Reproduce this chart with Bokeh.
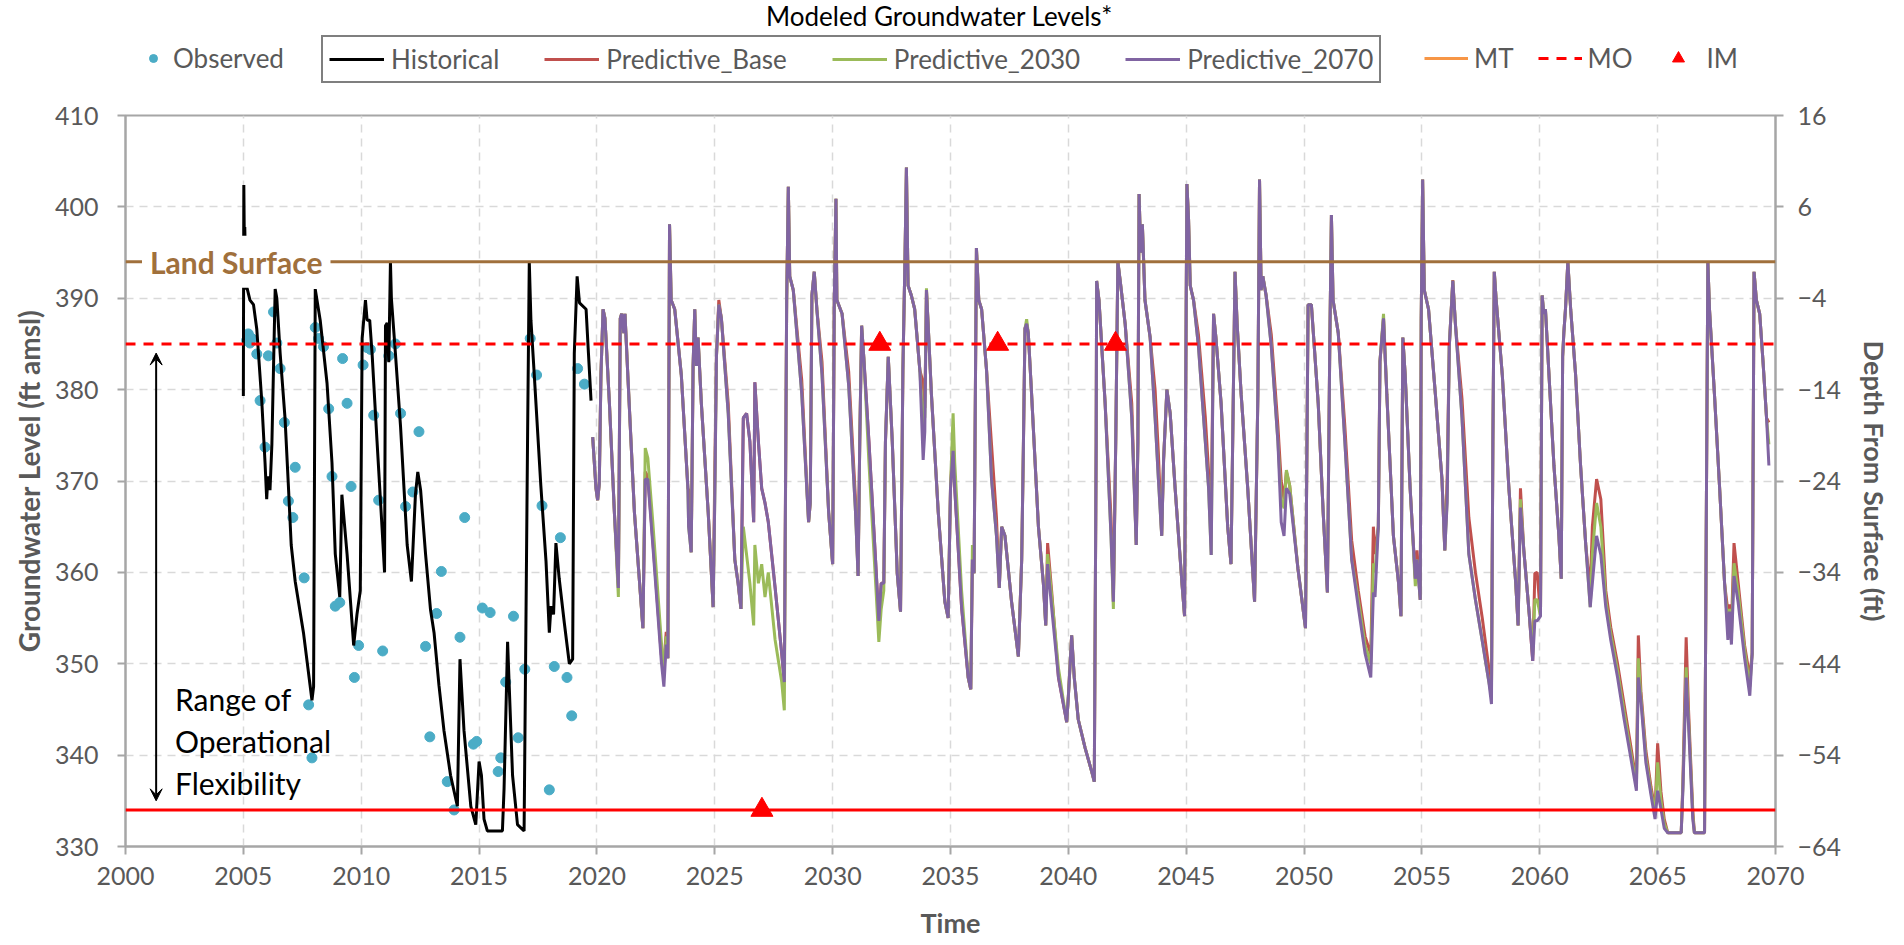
from bokeh.plotting import figure
from bokeh.layouts import column
from bokeh.models import (Range1d, LinearAxis, FixedTicker, Span, Label, Legend, LegendItem,
                          Arrow, VeeHead)
from bokeh.embed import file_html
from bokeh.resources import INLINE

# ---------------- data ----------------
X_TICKS = [2000, 2005, 2010, 2015, 2020, 2025, 2030, 2035, 2040, 2045, 2050, 2055, 2060, 2065, 2070]
LEFT_TICKS = [330, 340, 350, 360, 370, 380, 390, 400, 410]
RIGHT_TICKS = [-64, -54, -44, -34, -24, -14, -4, 6, 16]

LAND_SURFACE = 394
MO_LEVEL = 385
MT_LEVEL = 334

im_years = [2027, 2032, 2037, 2042]
im_levels = [334, 385, 385, 385]

obs_years = [2005.21, 2005.35, 2005.14, 2005.28, 2005.57, 2005.71, 2005.92, 2006.06, 2006.28, 2006.42,
             2006.56, 2006.74, 2007.20, 2006.91, 2007.10, 2007.58, 2007.77, 2007.91, 2008.05, 2008.19,
             2008.40, 2008.62, 2008.76, 2009.21, 2009.40, 2009.57, 2008.90, 2009.09, 2009.71, 2009.89,
             2010.08, 2010.25, 2010.39, 2010.53, 2010.74, 2010.91, 2011.17, 2011.45, 2011.67, 2011.88,
             2012.19, 2012.45, 2012.73, 2012.91, 2013.20, 2013.40, 2013.65, 2013.94, 2014.19, 2014.39,
             2014.76, 2014.90, 2015.14, 2015.47, 2015.81, 2015.92, 2016.13, 2016.46, 2016.66, 2016.94,
             2017.17, 2017.44, 2017.67, 2017.98, 2018.19, 2018.45, 2018.73, 2018.93, 2019.18, 2019.47]
obs_levels = [386.1, 385.6, 385.4, 385.1, 383.9, 378.8, 373.7, 383.7, 388.5, 385.1,
              382.3, 376.4, 371.5, 367.8, 366.0, 359.4, 345.5, 339.7, 386.8, 385.6,
              384.7, 377.9, 370.5, 383.4, 378.5, 369.4, 356.3, 356.7, 348.5, 352.0,
              382.7, 384.6, 384.4, 377.2, 367.9, 351.4, 383.7, 385.0, 377.4, 367.2,
              368.8, 375.4, 351.9, 342.0, 355.5, 360.1, 337.1, 334.0, 352.9, 366.0,
              341.2, 341.5, 356.1, 355.6, 338.2, 339.7, 348.0, 355.2, 341.9, 349.4,
              385.6, 381.6, 367.3, 336.2, 349.7, 363.8, 348.5, 344.3, 382.3, 380.6]

hist_years = [2005.00, 2005.02, 2005.04, 2005.06, 2005.07, 2005.08, 2005.15, 2005.28, 2005.43, 2005.57,
              2005.78, 2005.92, 2005.99, 2006.04, 2006.13, 2006.21, 2006.35, 2006.42, 2006.56, 2006.77,
              2006.91, 2007.03, 2007.20, 2007.55, 2007.91, 2007.98, 2008.05, 2008.26, 2008.55, 2008.76,
              2008.90, 2009.09, 2009.18, 2009.40, 2009.68, 2009.82, 2009.96, 2010.04, 2010.18, 2010.25,
              2010.36, 2010.46, 2010.67, 2010.89, 2010.99, 2011.03, 2011.10, 2011.17, 2011.24, 2011.28,
              2011.45, 2011.67, 2011.95, 2012.13, 2012.30, 2012.40, 2012.52, 2012.73, 2012.94, 2013.09,
              2013.30, 2013.51, 2013.79, 2014.08, 2014.19, 2014.36, 2014.65, 2014.86, 2015.00, 2015.10,
              2015.21, 2015.35, 2015.99, 2016.06, 2016.21, 2016.28, 2016.42, 2016.63, 2016.91, 2017.06,
              2017.13, 2017.20, 2017.34, 2017.62, 2017.84, 2017.98, 2018.05, 2018.16, 2018.26, 2018.40,
              2018.62, 2018.83, 2018.97, 2019.04, 2019.16, 2019.26, 2019.54, 2019.64, 2019.75]
hist_levels = [379.3, 402.4, 396.5, 397.8, 396.5, 391.0, 391.2, 389.8, 389.3, 386.6,
               378.8, 372.0, 368.0, 370.5, 369.0, 374.0, 391.0, 390.0, 384.0, 376.8,
               369.5, 363.0, 359.0, 353.4, 346.0, 347.5, 391.0, 387.6, 380.7, 372.0,
               362.0, 357.3, 368.5, 362.0, 352.0, 355.4, 358.0, 385.6, 389.8, 387.6,
               387.6, 384.0, 374.4, 364.6, 360.0, 387.0, 387.3, 383.0, 394.0, 390.0,
               384.0, 375.9, 363.0, 359.0, 368.5, 371.0, 369.0, 362.0, 355.9, 353.4,
               347.6, 342.7, 337.8, 334.4, 350.5, 342.7, 334.4, 332.4, 339.3, 337.8,
               333.0, 331.7, 331.7, 336.3, 352.4, 347.5, 337.8, 332.4, 331.7, 375.4,
               394.0, 387.6, 381.7, 369.5, 361.2, 353.4, 356.3, 355.4, 363.2, 359.3,
               354.4, 350.0, 350.5, 384.0, 392.4, 389.5, 388.8, 384.0, 378.8]

pred_years = [
    2019.82, 2019.96, 2020.03, 2020.10, 2020.17, 2020.26, 2020.34, 2020.53, 2020.74, 2020.91,
    2020.99, 2021.05, 2021.14, 2021.19, 2021.31, 2021.59, 2021.95, 2022.05, 2022.16, 2022.37,
    2022.73, 2022.84, 2022.94, 2023.01, 2023.08, 2023.15, 2023.30, 2023.58, 2023.86, 2023.89,
    2024.00, 2024.08, 2024.15, 2024.22, 2024.29, 2024.43, 2024.72, 2024.93, 2025.00, 2025.07,
    2025.17, 2025.28, 2025.57, 2025.85, 2025.99, 2026.11, 2026.21, 2026.35, 2026.49, 2026.65,
    2026.70, 2026.85, 2026.99, 2027.13, 2027.27, 2027.56, 2027.84, 2027.95, 2028.05, 2028.12,
    2028.18, 2028.33, 2028.69, 2028.98, 2029.05, 2029.12, 2029.22, 2029.33, 2029.55, 2029.83,
    2030.00, 2030.07, 2030.14, 2030.18, 2030.40, 2030.68, 2030.97, 2031.08, 2031.15, 2031.23,
    2031.32, 2031.54, 2031.82, 2031.96, 2032.06, 2032.17, 2032.24, 2032.36, 2032.53, 2032.74,
    2032.88, 2032.98, 2033.07, 2033.13, 2033.20, 2033.34, 2033.48, 2033.70, 2033.84, 2033.91,
    2033.98, 2034.05, 2034.19, 2034.48, 2034.76, 2034.90, 2035.00, 2035.11, 2035.18, 2035.47,
    2035.75, 2035.86, 2035.93, 2036.00, 2036.10, 2036.20, 2036.32, 2036.53, 2036.74, 2036.95,
    2037.07, 2037.17, 2037.31, 2037.59, 2037.88, 2038.02, 2038.09, 2038.16, 2038.23, 2038.30,
    2038.44, 2038.73, 2038.94, 2039.04, 2039.12, 2039.29, 2039.58, 2039.93, 2040.00, 2040.14,
    2040.25, 2040.42, 2040.71, 2040.99, 2041.10, 2041.18, 2041.20, 2041.30, 2041.56, 2041.81,
    2041.91, 2042.01, 2042.10, 2042.20, 2042.41, 2042.69, 2042.88, 2042.95, 2043.00, 2043.07,
    2043.14, 2043.25, 2043.47, 2043.68, 2043.82, 2043.96, 2044.04, 2044.18, 2044.32, 2044.53,
    2044.82, 2044.93, 2045.00, 2045.03, 2045.10, 2045.17, 2045.31, 2045.52, 2045.81, 2045.95,
    2046.06, 2046.16, 2046.26, 2046.48, 2046.76, 2046.90, 2047.07, 2047.16, 2047.33, 2047.61,
    2047.90, 2048.04, 2048.11, 2048.18, 2048.25, 2048.39, 2048.61, 2048.89, 2049.03, 2049.15,
    2049.25, 2049.39, 2049.74, 2050.06, 2050.17, 2050.31, 2050.38, 2050.60, 2050.81, 2050.99,
    2051.09, 2051.16, 2051.23, 2051.45, 2051.73, 2052.02, 2052.30, 2052.59, 2052.83, 2052.94,
    2053.01, 2053.15, 2053.22, 2053.37, 2053.51, 2053.79, 2054.01, 2054.11, 2054.19, 2054.29,
    2054.50, 2054.72, 2054.79, 2054.93, 2054.97, 2055.03, 2055.10, 2055.28, 2055.57, 2055.85,
    2055.97, 2056.07, 2056.16, 2056.31, 2056.42, 2056.70, 2056.99, 2057.27, 2057.56, 2057.84,
    2057.95, 2058.01, 2058.07, 2058.15, 2058.41, 2058.69, 2058.98, 2059.08, 2059.18, 2059.32,
    2059.55, 2059.70, 2059.79, 2059.89, 2060.03, 2060.10, 2060.17, 2060.24, 2060.38, 2060.60,
    2060.81, 2060.91, 2060.97, 2061.02, 2061.09, 2061.19, 2061.31, 2061.52, 2061.73, 2061.95,
    2062.14, 2062.23, 2062.41, 2062.59, 2062.80, 2063.01, 2063.30, 2063.58, 2063.86, 2064.10,
    2064.18, 2064.29, 2064.50, 2064.72, 2064.89, 2065.00, 2065.14, 2065.28, 2065.43, 2066.00,
    2066.07, 2066.21, 2066.31, 2066.49, 2066.56, 2066.99, 2067.06, 2067.13, 2067.20, 2067.41,
    2067.63, 2067.84, 2067.98, 2068.05, 2068.13, 2068.24, 2068.41, 2068.69, 2068.91, 2069.01,
    2069.09, 2069.19, 2069.33, 2069.47, 2069.62, 2069.72]

pred_2070 = [
    374.8, 369.2, 367.9, 369.7, 381.6, 388.8, 387.8, 378.5, 366.6, 358.3,
    387.8, 388.3, 386.2, 388.3, 381.6, 366.6, 353.9, 370.2, 370.2, 363.0,
    350.3, 347.5, 352.1, 350.6, 398.1, 389.8, 388.8, 381.6, 369.2, 365.0,
    362.2, 382.6, 388.8, 382.6, 385.7, 378.5, 366.6, 356.2, 368.1, 383.6,
    389.3, 387.8, 377.4, 361.4, 358.8, 356.0, 376.9, 377.4, 374.3, 365.5,
    380.8, 374.3, 369.2, 367.6, 365.5, 358.3, 351.1, 348.0, 389.8, 402.2,
    392.4, 390.9, 379.5, 365.5, 367.6, 390.3, 392.9, 388.8, 381.6, 366.6,
    360.9, 389.8, 400.9, 389.8, 388.3, 380.5, 366.6, 359.6, 374.3, 387.0,
    383.6, 374.3, 361.4, 354.7, 358.8, 358.8, 374.3, 383.6, 374.3, 359.9,
    355.7, 382.1, 394.5, 404.3, 391.4, 390.3, 388.8, 382.1, 372.3, 375.4,
    390.9, 387.2, 379.5, 366.6, 356.8, 355.0, 369.2, 373.3, 369.2, 356.2,
    348.5, 347.2, 361.4, 359.9, 395.5, 389.8, 388.8, 382.1, 370.2, 364.0,
    358.3, 365.0, 364.0, 356.8, 350.8, 361.4, 373.3, 386.7, 387.2, 386.2,
    379.5, 365.0, 358.8, 354.2, 360.9, 356.2, 348.5, 343.6, 346.4, 353.1,
    348.5, 343.9, 340.8, 338.2, 337.1, 374.3, 391.9, 389.8, 378.5, 364.0,
    356.8, 374.3, 394.0, 391.9, 387.2, 376.9, 363.0, 374.3, 401.4, 395.0,
    398.1, 389.8, 385.7, 376.9, 370.2, 364.0, 372.3, 380.0, 377.4, 369.2,
    358.8, 355.2, 389.8, 402.5, 398.6, 391.4, 389.8, 384.7, 374.3, 369.2,
    361.9, 388.3, 385.7, 378.5, 365.0, 360.9, 392.9, 387.2, 379.5, 369.2,
    356.8, 379.5, 403.0, 390.9, 392.4, 390.3, 384.7, 374.3, 365.5, 364.0,
    369.2, 368.6, 360.4, 353.9, 389.3, 389.3, 386.7, 378.5, 366.6, 357.8,
    384.7, 399.1, 389.8, 386.2, 374.3, 361.4, 356.2, 351.1, 348.5, 357.8,
    357.3, 365.0, 383.1, 387.8, 379.5, 364.0, 358.8, 355.2, 385.7, 381.6,
    369.2, 359.3, 361.4, 357.0, 387.8, 403.0, 390.9, 388.8, 379.5, 370.2,
    362.4, 367.6, 384.7, 391.9, 387.2, 376.9, 362.0, 357.0, 352.5, 348.0,
    345.6, 374.3, 392.9, 389.8, 381.6, 369.2, 358.8, 354.2, 367.1, 362.5,
    355.5, 350.3, 354.7, 354.7, 355.2, 390.3, 388.3, 388.8, 382.1, 371.7,
    364.0, 359.3, 383.6, 386.2, 388.8, 394.0, 388.8, 381.6, 371.7, 363.0,
    356.2, 358.8, 364.0, 361.9, 356.2, 352.6, 348.5, 343.9, 339.7, 336.1,
    348.5, 345.9, 339.2, 335.6, 333.0, 336.1, 334.1, 332.0, 331.5, 331.5,
    336.1, 348.5, 343.4, 333.0, 331.5, 331.5, 364.0, 394.0, 388.8, 379.5,
    369.2, 358.8, 352.6, 355.7, 352.1, 359.6, 356.8, 350.6, 346.5, 351.1,
    392.9, 389.8, 388.3, 383.1, 376.9, 371.7]

pred_base = [
    374.8, 369.2, 367.9, 369.7, 381.6, 388.8, 387.8, 378.5, 366.6, 358.3,
    387.8, 388.3, 386.2, 388.3, 381.6, 366.6, 353.9, 371.0, 370.5, 363.5,
    351.0, 350.0, 353.5, 350.6, 398.1, 389.8, 388.8, 381.6, 369.2, 369.0,
    362.2, 382.6, 388.8, 382.6, 385.7, 378.5, 366.6, 356.2, 371.0, 383.6,
    389.8, 387.8, 378.5, 361.4, 358.8, 356.0, 376.9, 377.4, 374.3, 365.5,
    380.8, 374.3, 369.2, 367.6, 365.5, 358.3, 351.1, 348.0, 389.8, 402.2,
    392.4, 390.9, 381.0, 365.5, 367.6, 390.3, 392.9, 388.8, 383.0, 366.6,
    360.9, 389.8, 400.9, 389.8, 388.3, 382.0, 368.0, 359.6, 374.3, 387.0,
    383.6, 374.3, 361.4, 354.7, 358.8, 358.8, 374.3, 383.6, 374.3, 359.9,
    355.7, 382.1, 394.5, 404.3, 391.4, 390.3, 388.8, 382.1, 380.8, 378.0,
    390.9, 387.2, 379.5, 366.6, 356.8, 355.0, 369.2, 375.0, 369.2, 356.2,
    348.5, 347.2, 361.4, 359.9, 395.5, 389.8, 388.8, 382.1, 374.0, 366.0,
    358.3, 365.0, 364.0, 356.8, 350.8, 361.4, 373.3, 386.7, 387.2, 386.2,
    379.5, 365.0, 358.8, 354.2, 363.2, 358.0, 348.5, 343.6, 346.4, 353.1,
    348.5, 343.9, 340.8, 338.2, 337.1, 374.3, 391.9, 389.8, 378.5, 366.0,
    356.8, 374.3, 394.0, 391.9, 387.2, 378.5, 363.0, 374.3, 401.4, 395.0,
    398.1, 389.8, 385.7, 380.0, 373.0, 364.0, 372.3, 380.0, 377.4, 369.2,
    358.8, 355.2, 389.8, 402.5, 398.6, 391.4, 389.8, 386.0, 377.0, 371.0,
    366.0, 388.3, 385.7, 378.5, 365.0, 360.9, 392.9, 387.2, 379.5, 369.2,
    356.8, 379.5, 403.0, 390.9, 392.4, 390.3, 386.0, 376.0, 370.0, 368.0,
    371.0, 369.5, 360.4, 353.9, 389.3, 389.3, 386.7, 378.5, 366.6, 357.8,
    384.7, 399.1, 389.8, 386.2, 376.0, 363.5, 358.0, 353.0, 351.0, 365.0,
    362.0, 365.0, 383.1, 387.8, 379.5, 364.0, 358.8, 355.2, 385.7, 381.6,
    369.2, 359.3, 362.4, 357.0, 387.8, 403.0, 390.9, 388.8, 379.5, 370.2,
    362.4, 370.2, 384.7, 392.0, 387.2, 379.0, 366.0, 360.0, 355.0, 349.5,
    347.0, 374.3, 392.9, 389.8, 381.6, 369.2, 358.8, 354.2, 369.2, 362.5,
    355.5, 350.3, 359.9, 360.0, 355.2, 390.3, 388.3, 388.8, 382.1, 371.7,
    364.0, 359.3, 383.6, 386.2, 388.8, 394.0, 388.8, 381.6, 371.7, 363.0,
    358.0, 365.0, 370.2, 368.0, 358.0, 354.0, 350.0, 345.5, 341.0, 337.0,
    353.1, 347.0, 340.5, 336.5, 334.0, 341.3, 336.0, 333.0, 331.5, 331.5,
    337.0, 352.9, 345.0, 334.0, 331.5, 331.5, 364.0, 394.0, 388.8, 379.5,
    369.2, 358.8, 355.7, 356.5, 354.0, 363.2, 359.0, 352.0, 348.5, 351.1,
    392.9, 389.8, 388.3, 383.1, 376.9, 376.4]

pred_2030 = [
    374.8, 369.2, 367.9, 369.7, 381.6, 388.8, 387.8, 378.5, 366.6, 357.3,
    387.8, 388.3, 386.2, 388.3, 381.6, 366.6, 353.9, 373.6, 372.5, 365.5,
    352.5, 349.0, 353.0, 350.6, 398.1, 389.8, 388.8, 381.6, 369.2, 365.0,
    362.2, 382.6, 388.8, 382.6, 385.7, 378.5, 366.6, 356.2, 368.1, 383.6,
    389.3, 387.8, 377.4, 361.4, 358.8, 356.0, 365.0, 361.9, 358.8, 354.2,
    363.0, 358.8, 360.9, 357.3, 360.0, 352.6, 348.0, 344.9, 389.8, 402.2,
    392.4, 390.9, 379.5, 365.5, 367.6, 390.3, 392.9, 388.8, 381.6, 366.6,
    360.9, 389.8, 400.9, 389.8, 388.3, 380.5, 366.6, 359.6, 374.3, 387.0,
    383.6, 372.0, 359.0, 352.4, 356.0, 358.0, 374.3, 383.6, 374.3, 359.9,
    355.7, 382.1, 394.5, 404.3, 391.4, 390.3, 388.8, 382.1, 376.0, 377.0,
    391.1, 387.2, 379.5, 366.6, 356.8, 355.0, 369.2, 377.4, 372.0, 358.0,
    348.5, 347.2, 363.0, 359.9, 395.5, 389.8, 388.8, 382.1, 370.2, 364.0,
    358.3, 365.0, 364.0, 356.8, 350.8, 361.4, 373.3, 386.7, 387.7, 386.2,
    379.5, 365.0, 358.8, 354.2, 362.0, 357.5, 349.5, 343.6, 346.4, 353.1,
    348.5, 343.9, 340.8, 338.2, 337.1, 374.3, 391.9, 389.8, 378.5, 364.0,
    356.0, 374.3, 394.0, 391.9, 387.2, 376.9, 363.0, 374.3, 401.4, 395.0,
    398.1, 389.8, 385.7, 376.9, 370.2, 364.0, 372.3, 380.0, 377.4, 369.2,
    358.8, 355.2, 389.8, 402.5, 398.6, 391.4, 389.8, 384.7, 374.3, 369.2,
    361.9, 388.3, 385.7, 378.5, 365.0, 360.9, 392.9, 387.2, 379.5, 369.2,
    356.8, 379.5, 403.0, 390.9, 392.4, 390.3, 384.7, 374.3, 368.0, 367.0,
    371.2, 369.5, 360.4, 353.9, 389.3, 389.3, 386.7, 378.5, 366.6, 357.8,
    384.7, 399.1, 389.8, 386.2, 374.3, 361.4, 357.0, 352.0, 350.0, 361.0,
    360.0, 365.0, 383.1, 388.3, 379.5, 364.0, 358.8, 355.2, 385.7, 381.6,
    369.2, 358.5, 361.4, 357.0, 387.8, 403.0, 390.9, 388.8, 379.5, 370.2,
    362.4, 368.0, 384.7, 391.9, 387.2, 376.9, 362.0, 357.0, 352.5, 348.0,
    346.5, 374.3, 392.9, 389.8, 381.6, 369.2, 358.8, 354.2, 368.0, 362.5,
    355.5, 351.0, 357.0, 357.0, 355.2, 390.3, 388.3, 388.8, 382.1, 371.7,
    364.0, 359.3, 383.6, 386.2, 388.8, 394.0, 388.8, 381.6, 371.7, 363.0,
    356.2, 362.0, 367.6, 365.0, 357.0, 353.3, 349.2, 344.7, 340.3, 336.5,
    350.6, 346.4, 339.8, 336.0, 333.5, 339.2, 335.0, 332.5, 331.5, 331.5,
    336.5, 349.6, 344.0, 333.5, 331.5, 331.5, 364.0, 394.0, 388.8, 379.5,
    369.2, 358.8, 354.0, 356.0, 353.0, 361.0, 358.0, 351.5, 347.5, 351.1,
    392.9, 389.8, 388.3, 383.1, 376.9, 374.0]

# ---------------- styling ----------------
FONT = "Lato"
GRAY = "#595959"
AXIS_GRAY = "#a6a6a6"
BROWN = "#a0703c"
C_OBS = "#4bacc6"
C_BASE = "#c0504d"
C_2030 = "#9bbb59"
C_2070 = "#8064a2"
C_MT = "#f79646"
C_RED = "#ff0000"

W = 1900
BORDER_L = 125
BORDER_R = 125
HDR_H = 95
TOTAL_H = 943

# ---------------- header (title + legend) ----------------
hdr = figure(width=W, height=HDR_H, output_backend="svg", toolbar_location=None,
             x_range=Range1d(0, 10), y_range=Range1d(0, 10),
             x_axis_type=None, y_axis_type=None,
             min_border_left=BORDER_L, min_border_right=BORDER_R, min_border_top=0, min_border_bottom=0)
hdr.outline_line_color = None
hdr.grid.visible = False

hdr.add_layout(Label(x=814, y=80, x_units="screen", y_units="screen",
                     text="Modeled Groundwater Levels*", text_font=FONT, text_font_size="26px",
                     text_align="center", text_baseline="middle", text_color="black"))

# legend proxies (kept outside the header's visible range)
PX = [-20, -19]
PY = [-20, -20]
lg_obs = hdr.scatter(PX[:1], PY[:1], marker="circle", color=C_OBS)
lg_hist = hdr.line(PX, PY, line_color="black", line_width=3)
lg_base = hdr.line(PX, PY, line_color=C_BASE, line_width=3)
lg_2030 = hdr.line(PX, PY, line_color=C_2030, line_width=3)
lg_2070 = hdr.line(PX, PY, line_color=C_2070, line_width=3)
lg_mt = hdr.line(PX, PY, line_color=C_MT, line_width=3)
lg_mo = hdr.line(PX, PY, line_color=C_RED, line_width=3, line_dash="10 8")
lg_im = hdr.scatter(PX[:1], PY[:1], marker="triangle", color=C_RED)


def make_legend(items, loc, gw, bordered=False, spacing=10, standoff=7, padding=0):
    lg = Legend(items=items, location=loc, orientation="horizontal",
                glyph_width=gw, glyph_height=30, label_standoff=standoff, spacing=spacing,
                padding=padding, label_text_font=FONT, label_text_font_size="26px",
                label_text_color=GRAY, background_fill_alpha=0,
                border_line_color="black" if bordered else None, border_line_width=2)
    hdr.add_layout(lg)
    return lg


make_legend([LegendItem(label="Observed", renderers=[lg_obs])], (18, 21), 20, standoff=10)
make_legend([LegendItem(label="Historical", renderers=[lg_hist]),
             LegendItem(label="Predictive_Base", renderers=[lg_base]),
             LegendItem(label="Predictive_2030", renderers=[lg_2030]),
             LegendItem(label="Predictive_2070", renderers=[lg_2070])],
            (196, 12), 55, bordered=True, spacing=45, standoff=7, padding=6)
make_legend([LegendItem(label="MT", renderers=[lg_mt]),
             LegendItem(label="MO", renderers=[lg_mo]),
             LegendItem(label="IM", renderers=[lg_im])],
            (1299, 21), 44, spacing=24, standoff=6)

# ---------------- main chart ----------------
p = figure(width=W, height=TOTAL_H - HDR_H, output_backend="svg", toolbar_location=None,
           x_range=Range1d(X_TICKS[0], X_TICKS[-1]), y_range=Range1d(LEFT_TICKS[0], LEFT_TICKS[-1]),
           min_border_left=BORDER_L, min_border_right=BORDER_R, min_border_top=20, min_border_bottom=97)
p.extra_y_ranges = {"depth": Range1d(RIGHT_TICKS[0], RIGHT_TICKS[-1])}
p.outline_line_color = AXIS_GRAY
p.outline_line_width = 2

right_axis = LinearAxis(y_range_name="depth", ticker=FixedTicker(ticks=RIGHT_TICKS),
                        axis_label="Depth From Surface (ft)")
p.add_layout(right_axis, "right")

p.xaxis.ticker = FixedTicker(ticks=X_TICKS)
p.yaxis[0].ticker = FixedTicker(ticks=LEFT_TICKS)
p.xaxis.axis_label = "Time"
p.yaxis[0].axis_label = "Groundwater Level (ft amsl)"

for ax in [p.xaxis[0], p.yaxis[0], right_axis]:
    ax.axis_line_color = AXIS_GRAY
    ax.axis_line_width = 2
    ax.major_tick_line_color = AXIS_GRAY
    ax.major_tick_line_width = 2
    ax.major_tick_out = 8
    ax.major_tick_in = 0
    ax.minor_tick_line_color = None
    ax.major_label_text_font = FONT
    ax.major_label_text_font_size = "25px"
    ax.major_label_text_color = GRAY
    ax.axis_label_text_font = FONT
    ax.axis_label_text_font_size = "27px"
    ax.axis_label_text_font_style = "bold"
    ax.axis_label_text_color = GRAY

p.yaxis[0].axis_label_text_font_size = "28px"
p.xaxis[0].major_label_standoff = 12
p.xaxis[0].axis_label_standoff = 18
p.yaxis[0].major_label_standoff = 19
p.yaxis[0].axis_label_standoff = 6
right_axis.major_label_standoff = 14
right_axis.axis_label_standoff = 14

p.xgrid.ticker = FixedTicker(ticks=X_TICKS)
p.ygrid.ticker = FixedTicker(ticks=LEFT_TICKS)
for g in [p.xgrid[0], p.ygrid[0]]:
    g.grid_line_color = "#d9d9d9"
    g.grid_line_dash = "8 6"
    g.grid_line_width = 1.5

# reference lines
p.add_layout(Span(location=LAND_SURFACE, dimension="width", line_color=BROWN, line_width=3))
p.add_layout(Span(location=MO_LEVEL, dimension="width", line_color=C_RED, line_width=3,
                  line_dash="10 8"))
p.add_layout(Span(location=MT_LEVEL, dimension="width", line_color=C_RED, line_width=3))

# series
p.scatter(obs_years, obs_levels, marker="circle", size=10, color=C_OBS)
p.line(hist_years, hist_levels, line_color="black", line_width=3)
p.line(pred_years, pred_base, line_color=C_BASE, line_width=3)
p.line(pred_years, pred_2030, line_color=C_2030, line_width=3)
p.line(pred_years, pred_2070, line_color=C_2070, line_width=3)
p.scatter(im_years, im_levels, marker="triangle", size=22, color=C_RED)

# annotations
p.add_layout(Arrow(start=VeeHead(size=12, fill_color="black", line_color="black"),
                   end=VeeHead(size=12, fill_color="black", line_color="black"),
                   x_start=2001.3, y_start=MO_LEVEL - 1, x_end=2001.3, y_end=MT_LEVEL + 1,
                   line_color="black", line_width=2))
for txt, yy in [("Range of", 346.1), ("Operational", 341.5), ("Flexibility", 337.0)]:
    p.add_layout(Label(x=2002.1, y=yy, text=txt, text_font=FONT, text_font_size="30px",
                       text_baseline="middle", text_color="black"))
p.add_layout(Label(x=2000.7, y=LAND_SURFACE, text="Land Surface", text_font=FONT,
                   text_font_size="30px", text_font_style="bold", text_color=BROWN,
                   text_baseline="middle", background_fill_color="white", padding=8))

layout = column(hdr, p, spacing=0)
open("out.html", "w").write(file_html(layout, INLINE))
